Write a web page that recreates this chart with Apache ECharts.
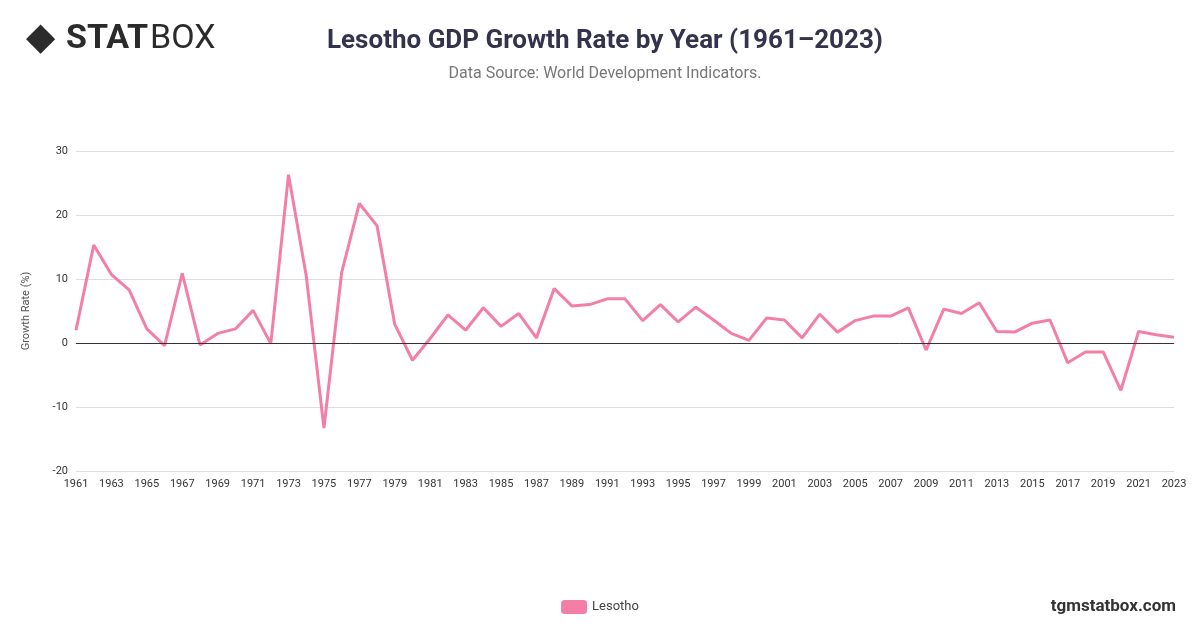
<!DOCTYPE html>
<html><head><meta charset="utf-8">
<script src="https://cdn.jsdelivr.net/npm/echarts@6/dist/echarts.min.js"></script>
<style>html,body{margin:0;padding:0;background:#fff}#c{width:1200px;height:628px}</style>
</head><body><div id="c"></div>
<script>
const years = [];
for (let y = 1961; y <= 2023; y++) years.push(String(y));
const growth = [2.0,15.3,10.7,8.3,2.2,-0.4,10.9,-0.3,1.5,2.2,5.1,-0.1,26.3,10.5,-13.3,11.0,21.8,18.3,2.9,-2.7,0.7,4.4,2.0,5.5,2.6,4.6,0.8,8.5,5.8,6.0,6.9,6.9,3.5,6.0,3.3,5.6,3.6,1.5,0.4,3.9,3.6,0.8,4.5,1.7,3.5,4.2,4.2,5.5,-1.1,5.3,4.6,6.3,1.8,1.7,3.1,3.6,-3.1,-1.4,-1.4,-7.4,1.8,1.3,0.9];
const chart = echarts.init(document.getElementById('c'));
chart.setOption({
  animation:false,
  title:{text:'Lesotho GDP Growth Rate by Year (1961–2023)',subtext:'Data Source: World Development Indicators.',left:600,textAlign:'center',top:23,
    textStyle:{fontFamily:'Roboto',fontSize:26,fontWeight:'bold',color:'#33334d'},
    subtextStyle:{fontFamily:'Roboto',fontSize:16,color:'#777'},itemGap:12},
  graphic:[
    {type:'text',left:26,top:20,style:{text:'◆',font:'bold 38px DejaVu Sans',fill:'#2b2b2b'}},
    {type:'text',left:66,top:22,style:{text:'STAT',font:'bold 34px Roboto',fill:'#2b2b2b'}},
    {type:'text',left:150,top:22,style:{text:'BOX',font:'34px Roboto',fill:'#2b2b2b'}},
    {type:'text',right:24,top:598,style:{text:'tgmstatbox.com',font:'bold 17px Roboto',fill:'#333'}}
  ],
  legend:{bottom:9,left:'center',itemWidth:26,itemHeight:14,icon:'roundRect',textStyle:{fontFamily:'Roboto',fontSize:13,color:'#444'}},
  grid:{left:76,right:26,top:151,bottom:157},
  xAxis:{type:'category',data:years,boundaryGap:false,
    axisLine:{lineStyle:{color:'#ccc'}},axisTick:{show:false},
    axisLabel:{interval:1,fontFamily:'Roboto',fontSize:11,color:'#333'}},
  yAxis:{type:'value',min:-20,max:30,interval:10,name:'Growth Rate (%)',nameLocation:'middle',nameGap:44,
    nameTextStyle:{fontFamily:'Roboto',fontSize:11,color:'#555'},
    axisLabel:{fontFamily:'Roboto',fontSize:11,color:'#333'},
    splitLine:{lineStyle:{color:'#ddd'}}},
  series:[{name:'Lesotho',type:'line',data:growth,showSymbol:false,itemStyle:{color:'#f47fa6'},lineStyle:{width:3,color:'#f47fa6'},
    markLine:{silent:true,symbol:'none',label:{show:false},lineStyle:{color:'#333',type:'solid',width:1},data:[{yAxis:0}]}}]
});
</script></body></html>
